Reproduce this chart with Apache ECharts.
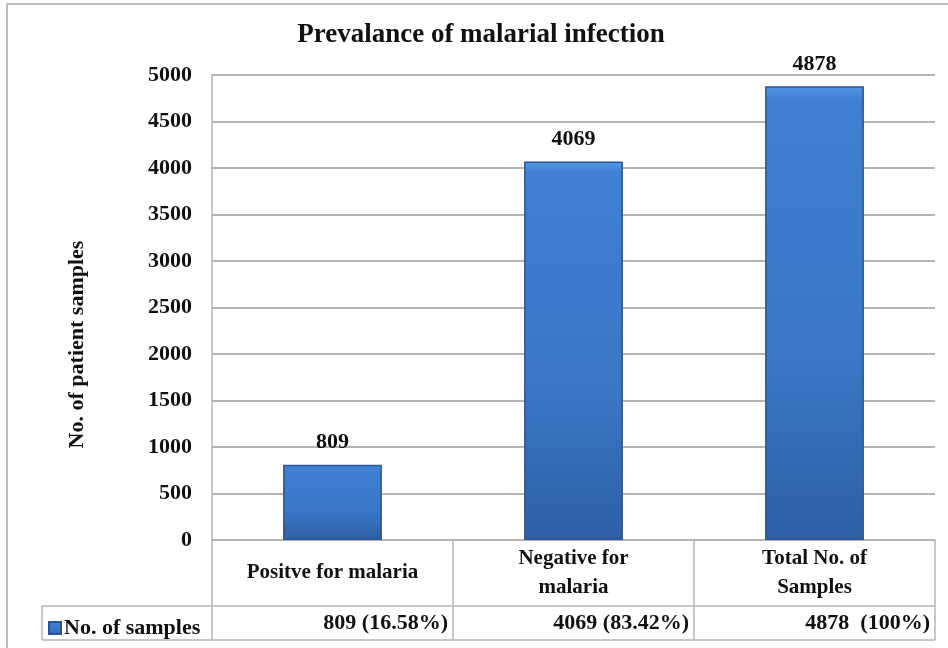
<!DOCTYPE html>
<html>
<head>
<meta charset="utf-8">
<script src="https://cdn.jsdelivr.net/npm/echarts@6/dist/echarts.min.js"></script>
<style>
  html, body { margin: 0; padding: 0; background: #fff; }
  #chart { width: 948px; height: 648px; }
</style>
</head>
<body>
<div id="chart"></div>
<script>
const titleText = 'Prevalance of malarial infection';
const seriesName = 'No. of samples';
const categories = ['Positve for malaria', 'Negative for\nmalaria', 'Total No. of\nSamples'];
const sampleCounts = [809, 4069, 4878];
const sampleShares = ['16.58%', '83.42%', '100%'];
const yAxisName = 'No. of patient samples';

// layout (pixels)
const plotLeft = 212, plotRight = 935, plotTop = 75, plotBottom = 540;
const rowSplit = 606, tableBottom = 640, tableLeft = 42;
const colW = (plotRight - plotLeft) / 3;
const font = 'Liberation Serif';
const gray = '#b4b4b4';

const tableValues = sampleCounts.map((v, i) => v + (sampleShares[i] === '100%' ? '  ' : ' ') + '(' + sampleShares[i] + ')');

const chart = echarts.init(document.getElementById('chart'));

const lines = [];
const addLine = (x1, y1, x2, y2) => lines.push({
  type: 'line', silent: true,
  shape: { x1, y1, x2, y2 },
  style: { stroke: gray, lineWidth: 1.5 }
});
for (let i = 0; i <= 3; i++) {
  addLine(plotLeft + colW * i, plotBottom, plotLeft + colW * i, tableBottom);
}
addLine(tableLeft, rowSplit, plotRight, rowSplit);
addLine(tableLeft, tableBottom, plotRight, tableBottom);
addLine(tableLeft, rowSplit, tableLeft, tableBottom);

const option = {
  backgroundColor: '#fff',
  animation: false,
  title: {
    text: titleText,
    left: 476,
    top: 17,
    textAlign: 'center',
    textStyle: { fontFamily: font, fontWeight: 'bold', fontSize: 27, color: '#111' }
  },
  legend: {
    left: tableLeft + 1,
    top: rowSplit + 6,
    icon: 'rect',
    itemWidth: 12,
    itemHeight: 12,
    itemGap: 4,
    textStyle: { fontFamily: font, fontWeight: 'bold', fontSize: 22, color: '#111', padding: [0, 0, 0, -2] },
    data: [seriesName]
  },
  grid: {
    left: plotLeft,
    right: 948 - plotRight,
    top: plotTop,
    bottom: 648 - plotBottom,
    containLabel: false
  },
  xAxis: [
    {
      type: 'category',
      data: categories,
      axisLine: { show: true, lineStyle: { color: gray, width: 1.5 } },
      axisTick: { show: false },
      axisLabel: {
        margin: 33,
        verticalAlign: 'middle',
        fontFamily: font, fontWeight: 'bold', fontSize: 21, lineHeight: 29, color: '#111'
      }
    },
    {
      type: 'category',
      position: 'bottom',
      offset: rowSplit - plotBottom,
      data: tableValues,
      axisLine: { show: false },
      axisTick: { show: false },
      axisLabel: {
        margin: 17,
        verticalAlign: 'middle',
        formatter: v => '{v|' + v + '}',
        rich: {
          v: { width: colW - 10, align: 'right', fontFamily: font, fontWeight: 'bold', fontSize: 22, color: '#111' }
        }
      }
    }
  ],
  yAxis: {
    type: 'value',
    min: 0,
    max: 5000,
    interval: 500,
    name: yAxisName,
    nameLocation: 'middle',
    nameGap: 124,
    nameRotate: 90,
    nameTextStyle: { fontFamily: font, fontWeight: 'bold', fontSize: 22, color: '#111', padding: [0, 74, 0, 0] },
    axisLine: { show: true, lineStyle: { color: gray, width: 1.5 } },
    axisTick: { show: false },
    axisLabel: { margin: 20, formatter: v => String(v), fontFamily: font, fontWeight: 'bold', fontSize: 22, color: '#111' },
    splitLine: { lineStyle: { color: gray, width: 2 } }
  },
  series: [
    {
      name: seriesName,
      type: 'bar',
      data: sampleCounts,
      barWidth: '41%',
      itemStyle: {
        color: new echarts.graphic.LinearGradient(0, 0, 0, 1, [
          { offset: 0, color: '#5497e6' },
          { offset: 0.03, color: '#3f80d2' },
          { offset: 0.6, color: '#3a77c6' },
          { offset: 1, color: '#2d5fa6' }
        ]),
        borderColor: '#2a5591',
        borderWidth: 1.5
      },
      label: {
        show: true,
        position: 'top',
        distance: 11,
        fontFamily: font, fontWeight: 'bold', fontSize: 22, color: '#111'
      }
    }
  ],
  graphic: [
    {
      type: 'rect', silent: true,
      shape: { x: 7, y: 4, width: 960, height: 660 },
      style: { fill: 'none', stroke: '#aaaaaa', lineWidth: 1.5 }
    },
    ...lines
  ]
};

chart.setOption(option);
</script>
</body>
</html>
